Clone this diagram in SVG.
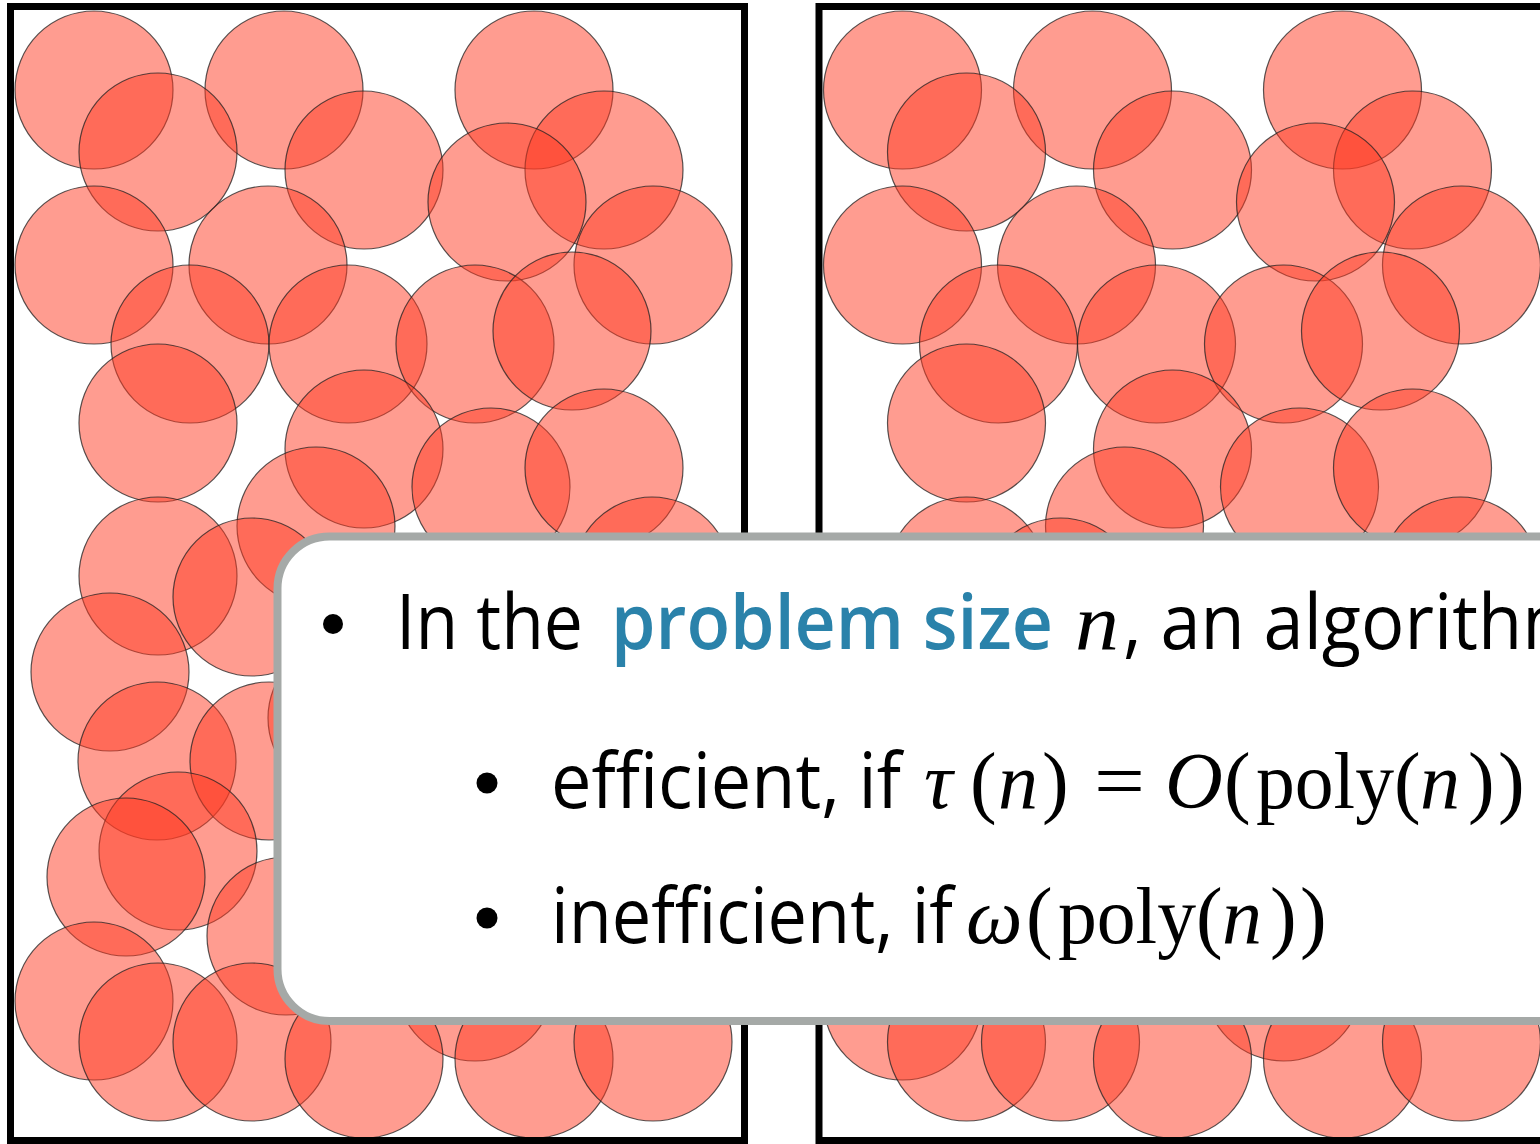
<svg xmlns="http://www.w3.org/2000/svg" xmlns:xlink="http://www.w3.org/1999/xlink" width="1540" height="1144" viewBox="0 0 1540 1144">
<style>
.frame{fill:none;stroke:#000;stroke-width:7}
.c{fill:#ff3a22;fill-opacity:0.5;stroke:#222;stroke-opacity:0.75;stroke-width:1.2}
.panel{fill:#fff;stroke:#a5a9a7;stroke-width:8}
.t{font-family:"Open Sans","Noto Sans","Liberation Sans",sans-serif;font-size:76px;fill:#000}
.blue{fill:#2a82aa;font-weight:600}
.m{font-family:"Liberation Serif","DejaVu Serif",serif;font-size:80px;fill:#000}
.mi{font-style:italic}
</style>
<rect width="1540" height="1144" fill="#fff"/>
<defs>
<g id="circles">
<circle class="c" cx="94" cy="90" r="79"/>
<circle class="c" cx="284" cy="90" r="79"/>
<circle class="c" cx="534" cy="90" r="79"/>
<circle class="c" cx="158" cy="152" r="79"/>
<circle class="c" cx="364" cy="170" r="79"/>
<circle class="c" cx="604" cy="170" r="79"/>
<circle class="c" cx="507" cy="202" r="79"/>
<circle class="c" cx="94" cy="265" r="79"/>
<circle class="c" cx="268" cy="265" r="79"/>
<circle class="c" cx="653" cy="265" r="79"/>
<circle class="c" cx="190" cy="344" r="79"/>
<circle class="c" cx="348" cy="344" r="79"/>
<circle class="c" cx="475" cy="344" r="79"/>
<circle class="c" cx="572" cy="331" r="79"/>
<circle class="c" cx="158" cy="423" r="79"/>
<circle class="c" cx="364" cy="449" r="79"/>
<circle class="c" cx="491" cy="487" r="79"/>
<circle class="c" cx="604" cy="468" r="79"/>
<circle class="c" cx="316" cy="526" r="79"/>
<circle class="c" cx="158" cy="576" r="79"/>
<circle class="c" cx="252" cy="597" r="79"/>
<circle class="c" cx="652" cy="576" r="79"/>
<circle class="c" cx="110" cy="672" r="79"/>
<circle class="c" cx="347" cy="718" r="79"/>
<circle class="c" cx="157" cy="761" r="79"/>
<circle class="c" cx="269" cy="761" r="79"/>
<circle class="c" cx="178" cy="851" r="79"/>
<circle class="c" cx="126" cy="877" r="79"/>
<circle class="c" cx="286" cy="936" r="79"/>
<circle class="c" cx="475" cy="982" r="79"/>
<circle class="c" cx="94" cy="1001" r="79"/>
<circle class="c" cx="158" cy="1042" r="79"/>
<circle class="c" cx="252" cy="1042" r="79"/>
<circle class="c" cx="364" cy="1059" r="79"/>
<circle class="c" cx="534" cy="1059" r="79"/>
<circle class="c" cx="653" cy="1042" r="79"/>
</g>
</defs>
<g id="left-box">
<use xlink:href="#circles" href="#circles"/>
<rect class="frame" x="10.5" y="6.5" width="734" height="1134"/>
</g>
<g id="right-box">
<use xlink:href="#circles" href="#circles" x="808.5"/>
<rect class="frame" x="819" y="6.5" width="734" height="1134"/>
</g>
<g id="callout">
<rect class="panel" x="277.5" y="536.5" width="1400" height="484.5" rx="52" ry="52"/>
<circle cx="333" cy="624" r="10"/>
<text class="t" x="396" y="649" textLength="187" lengthAdjust="spacingAndGlyphs">In the</text>
<text class="t blue" x="611" y="649" textLength="442" lengthAdjust="spacingAndGlyphs">problem size</text>
<text class="m mi" x="1075" y="649" textLength="44" lengthAdjust="spacingAndGlyphs">n</text>
<text class="t" x="1123" y="649" textLength="466" lengthAdjust="spacingAndGlyphs">, an algorithm</text>
<circle cx="487" cy="783" r="10.5"/>
<text class="t" x="551" y="808" textLength="350" lengthAdjust="spacingAndGlyphs">efficient, if</text>
<text class="m" y="808"><tspan class="mi" x="924">τ</tspan><tspan x="970">(</tspan><tspan class="mi" x="998">n</tspan><tspan x="1042">)</tspan></text>
<text class="m" x="1094" y="808" textLength="51" lengthAdjust="spacingAndGlyphs">=</text>
<text class="m" y="808"><tspan class="mi" x="1165">O</tspan><tspan x="1224">(</tspan></text>
<text class="m" x="1256" y="808" textLength="138" lengthAdjust="spacingAndGlyphs">poly</text>
<text class="m" y="808"><tspan x="1394">(</tspan><tspan class="mi" x="1420">n</tspan><tspan x="1468">)</tspan><tspan x="1498">)</tspan></text>
<circle cx="487" cy="918" r="10.5"/>
<text class="t" x="551" y="943" textLength="402" lengthAdjust="spacingAndGlyphs">inefficient, if</text>
<text class="m" y="943"><tspan class="mi" x="966">ω</tspan><tspan x="1026">(</tspan></text>
<text class="m" x="1058" y="943" textLength="138" lengthAdjust="spacingAndGlyphs">poly</text>
<text class="m" y="943"><tspan x="1196">(</tspan><tspan class="mi" x="1222">n</tspan><tspan x="1270">)</tspan><tspan x="1300">)</tspan></text>
</g>
</svg>
